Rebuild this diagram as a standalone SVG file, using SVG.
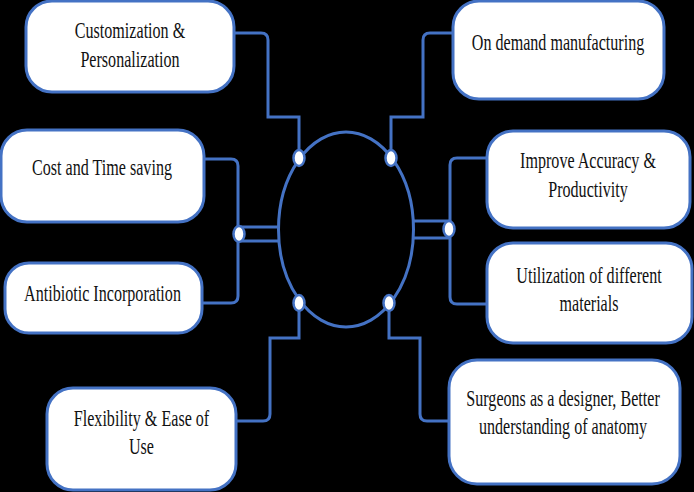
<svg xmlns="http://www.w3.org/2000/svg" width="694" height="492" viewBox="0 0 694 492">
<style>
.box{fill:#fff;stroke:#4472C4;stroke-width:3}
.ln{fill:none;stroke:#4472C4;stroke-width:3}
.dot{fill:#fff;stroke:#4472C4;stroke-width:2.5}
.t{font-family:'Liberation Serif','DejaVu Serif',serif;font-size:23px;fill:#111;text-anchor:middle}
</style>
<rect width="694" height="492" fill="#000"/>
<g id="connectors">
<ellipse class="ln" cx="346" cy="229.5" rx="67.5" ry="97.5"/>
<path class="ln" d="M234,33 H261 Q268,33 268,40 V117 H299 V152"/>
<path class="ln" d="M453,33 H430 Q423,33 423,40 V117 H391 V152"/>
<path class="ln" d="M204,159 H231 Q238,159 238,166 V296 Q238,303 231,303 H202"/>
<path class="ln" d="M239,227 H279 M239,241 H279"/>
<path class="ln" d="M487,158 H457 Q450,158 450,165 V297 Q450,304 457,304 H487"/>
<path class="ln" d="M413,221 H449 M413,238 H449"/>
<path class="ln" d="M236,421 H263 Q270,421 270,414 V338 H299 V309"/>
<path class="ln" d="M449,421 H427 Q420,421 420,414 V338 H389 V309"/>
<ellipse class="dot" cx="299" cy="158" rx="5.5" ry="8"/>
<ellipse class="dot" cx="391" cy="158" rx="5.5" ry="8"/>
<ellipse class="dot" cx="299" cy="303" rx="5.5" ry="8"/>
<ellipse class="dot" cx="389" cy="303" rx="5.5" ry="8"/>
<ellipse class="dot" cx="239" cy="234" rx="5.5" ry="8"/>
<ellipse class="dot" cx="449" cy="229" rx="5.5" ry="8"/>
</g>
<g id="n1">
<rect class="box" x="26" y="1" width="208" height="91" rx="26"/>
<text class="t" transform="translate(130,0) scale(0.7,1)"><tspan x="0" y="38">Customization &amp;</tspan><tspan x="0" y="67">Personalization</tspan></text>
</g>
<g id="n2">
<rect class="box" x="1" y="130" width="203" height="92" rx="26"/>
<text class="t" transform="translate(102,0) scale(0.7,1)" x="0" y="175">Cost and Time saving</text>
</g>
<g id="n3">
<rect class="box" x="5" y="263" width="197" height="70" rx="24"/>
<text class="t" transform="translate(102.5,0) scale(0.7,1)" x="0" y="301">Antibiotic Incorporation</text>
</g>
<g id="n4">
<rect class="box" x="47" y="388" width="189" height="102" rx="26"/>
<text class="t" transform="translate(141.5,0) scale(0.7,1)"><tspan x="0" y="426">Flexibility &amp; Ease of</tspan><tspan x="0" y="454">Use</tspan></text>
</g>
<g id="n5">
<rect class="box" x="453" y="1" width="211" height="98" rx="26"/>
<text class="t" transform="translate(558,0) scale(0.7,1)" x="0" y="50">On demand manufacturing</text>
</g>
<g id="n6">
<rect class="box" x="487" y="131" width="203" height="97" rx="26"/>
<text class="t" transform="translate(588,0) scale(0.7,1)"><tspan x="0" y="168">Improve Accuracy &amp;</tspan><tspan x="0" y="197">Productivity</tspan></text>
</g>
<g id="n7">
<rect class="box" x="487" y="243" width="205" height="100" rx="26"/>
<text class="t" transform="translate(589,0) scale(0.7,1)"><tspan x="0" y="283">Utilization of different</tspan><tspan x="0" y="311">materials</tspan></text>
</g>
<g id="n8">
<rect class="box" x="449" y="360" width="231" height="124" rx="28"/>
<text class="t" transform="translate(563,0) scale(0.7,1)"><tspan x="0" y="406">Surgeons as a designer, Better</tspan><tspan x="0" y="434">understanding of anatomy</tspan></text>
</g>
</svg>
